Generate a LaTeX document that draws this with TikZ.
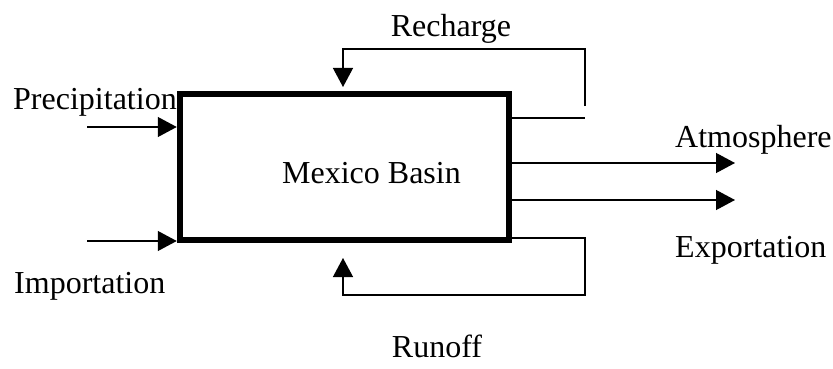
\documentclass[tikz,border=0pt]{standalone}
\usepackage{fontspec}
\setmainfont{Liberation Serif}
\usetikzlibrary{arrows.meta,positioning,calc}

\begin{document}
\begin{tikzpicture}[
  x=1pt, y=-1pt,
  >={Triangle[length=19pt,width=20pt]},
  bx/.style={draw, line width=6.5pt, minimum width=329pt, minimum height=146pt, inner sep=0pt},
  lbl/.style={inner sep=0pt, font=\fontsize{32}{36}\selectfont},
  fl/.style={line width=1.3pt}]
  \useasboundingbox (0,0) rectangle (833,369);
  \node[bx] (basin) at (344.5,167) {};
  \node[lbl, anchor=base] (name) at (371.5,183) {Mexico Basin};
  % inflows and outflows
  \foreach \y/\n in {127/pr,241/im} {
    \coordinate (\n) at (87,\y);
    \draw[fl,->] (\n) -- (\n -| basin.west);
  }
  \foreach \y/\n in {163/at,200/ex} {
    \coordinate (\n) at (735,\y);
    \draw[fl,->] (\n -| basin.east) -- (\n);
  }
  % recharge loop
  \coordinate (rca) at (585,118);
  \coordinate (rcb) at (585,106);
  \coordinate (rct) at (343,87);
  \draw[fl] (rca -| basin.east) -- (rca);
  \draw[fl,->] (rcb) -- ++(0,-57) -| (rct);
  % runoff loop
  \coordinate (roa) at (585,238);
  \coordinate (rot) at (343,258);
  \draw[fl,->] (roa -| basin.east) -- (roa) -- ++(0,57) -| (rot);
  \node[lbl, anchor=base] (rech) at (451,37) {Recharge};
  \node[lbl, anchor=base west] (prec) at (13,110) {Precipitation};
  \node[lbl, anchor=base west] (impo) at (14,293) {Importation};
  \node[lbl, anchor=base west] (atmo) at (675,147) {Atmosphere};
  \node[lbl, anchor=base west] (expo) at (675,257) {Exportation};
  \node[lbl, anchor=base] (runo) at (437,357) {Runoff};
\end{tikzpicture}
\end{document}
